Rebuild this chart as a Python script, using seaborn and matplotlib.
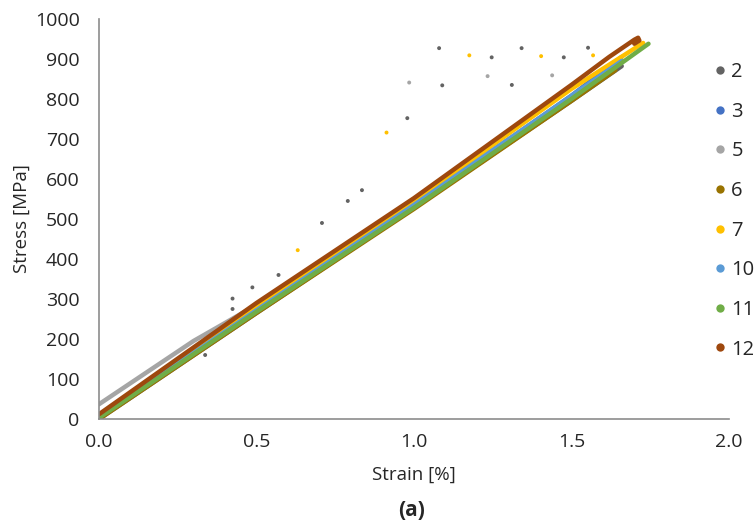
import matplotlib
matplotlib.use("Agg")
import matplotlib.pyplot as plt
from matplotlib.lines import Line2D
import seaborn as sns
import pandas as pd

# ---- data ----
series_names = ["2", "3", "5", "6", "7", "10", "11", "12"]
colors = ["#636363", "#4472C4", "#A5A5A5", "#997300", "#FFC000", "#5B9BD5", "#70AD47", "#9E480E"]

strain_2 = [0.0, 0.5, 1.0, 1.5, 1.66]
stress_2 = [0, 265, 528, 795, 882]
strain_3 = [0.0, 0.5, 1.0, 1.5, 1.66]
stress_3 = [3, 270, 533, 808, 905]
strain_5 = [0.0, 0.3, 0.5, 1.0, 1.5, 1.62]
stress_5 = [37, 195, 285, 540, 805, 868]
strain_6 = [0.0, 0.5, 1.0, 1.5, 1.64]
stress_6 = [0, 265, 525, 795, 872]
strain_7 = [0.0, 0.5, 1.0, 1.5, 1.728]
stress_7 = [5, 282, 545, 825, 940]
strain_10 = [0.0, 0.5, 1.0, 1.5, 1.66]
stress_10 = [5, 272, 535, 808, 895]
strain_11 = [0.0, 0.5, 1.0, 1.5, 1.745]
stress_11 = [3, 268, 528, 800, 938]
strain_12 = [0.0, 0.5, 1.0, 1.5, 1.62, 1.70, 1.712, 1.716, 1.70]
stress_12 = [12, 290, 552, 835, 905, 948, 953, 946, 938]

# scattered stray points
stray_2_x = [0.337, 0.424, 0.424, 0.487, 0.570, 0.708, 0.790, 0.835, 0.979, 1.080, 1.090, 1.247, 1.311, 1.342, 1.476, 1.553]
stray_2_y = [160, 301, 275, 329, 360, 490, 545, 572, 752, 927, 834, 904, 835, 927, 904, 928]
stray_5_x = [0.985, 1.234, 1.439]
stray_5_y = [841, 857, 859]
stray_7_x = [0.631, 0.913, 1.176, 1.404, 1.569]
stray_7_y = [422, 716, 909, 907, 909]

x_ticks = [0.0, 0.5, 1.0, 1.5, 2.0]
y_ticks = [0, 100, 200, 300, 400, 500, 600, 700, 800, 900, 1000]

# ---- build tables ----
curves = {"2": (strain_2, stress_2), "3": (strain_3, stress_3), "5": (strain_5, stress_5),
          "6": (strain_6, stress_6), "7": (strain_7, stress_7), "10": (strain_10, stress_10),
          "11": (strain_11, stress_11), "12": (strain_12, stress_12)}
rows = []
for name in series_names:
    xs, ys = curves[name]
    for i, (x, y) in enumerate(zip(xs, ys)):
        rows.append({"series": name, "order": i, "strain": x, "stress": y})
df = pd.DataFrame(rows)

stray_rows = []
for name, xs, ys in [("2", stray_2_x, stray_2_y), ("5", stray_5_x, stray_5_y), ("7", stray_7_x, stray_7_y)]:
    for x, y in zip(xs, ys):
        stray_rows.append({"series": name, "strain": x, "stress": y})
sdf = pd.DataFrame(stray_rows)

palette = dict(zip(series_names, colors))

sns.set_theme(style="white")
plt.rcParams["font.family"] = ["Open Sans", "DejaVu Sans"]

fig = plt.figure(figsize=(7.56, 5.26), dpi=100)
ax = fig.add_axes([0.131, 0.2034, 0.833, 0.7606])

sns.scatterplot(data=sdf, x="strain", y="stress", hue="series", palette=palette,
                s=8, linewidth=0, ax=ax, legend=False, zorder=1)
sns.lineplot(data=df, x="strain", y="stress", hue="series", hue_order=series_names,
             palette=palette, sort=False, estimator=None, units="series",
             linewidth=3.2, ax=ax, legend=False, zorder=2)

ax.set_xlim(0, 2.0)
ax.set_ylim(0, 1000)
ax.set_xticks(x_ticks)
ax.set_xticklabels([f"{t:.1f}" for t in x_ticks])
ax.set_yticks(y_ticks)
ax.set_yticklabels([str(t) for t in y_ticks])

for side in ["top", "right"]:
    ax.spines[side].set_visible(False)
for side in ["left", "bottom"]:
    ax.spines[side].set_color("#8c8c8c")
    ax.spines[side].set_linewidth(1.2)
ax.tick_params(axis="both", which="major", direction="out", length=5, width=1,
               color="#8c8c8c", labelsize=14, labelcolor="#262626")
ax.tick_params(axis="y", pad=9)
ax.tick_params(axis="x", pad=5)

ax.set_xlabel("Strain [%]", fontsize=13.5, color="#262626", labelpad=11)
ax.set_ylabel("Stress [MPa]", fontsize=13.5, color="#262626", labelpad=3)

fig.text(0.545, 0.030, "(a)", ha="center", va="center", fontsize=15, fontweight="bold", color="#262626")

handles = [Line2D([0], [0], marker="o", linestyle="", markersize=6, markerfacecolor=c,
                  markeredgewidth=0) for c in colors]
fig.legend(handles, series_names, loc="upper left", bbox_to_anchor=(0.942, 0.882),
           frameon=False, fontsize=14.5, labelspacing=0.975, handletextpad=0.15,
           handlelength=0.8, borderpad=0, borderaxespad=0, labelcolor="#262626")

fig.savefig("out.png", dpi=100)
